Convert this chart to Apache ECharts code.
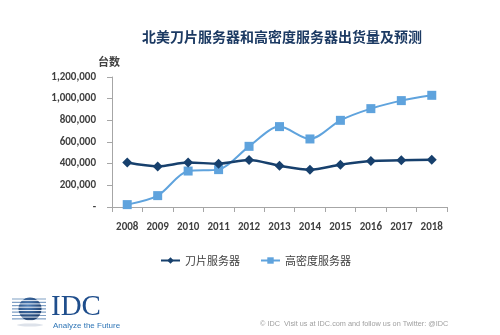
<!DOCTYPE html>
<html>
<head>
<meta charset="utf-8">
<script src="https://cdn.jsdelivr.net/npm/echarts@6/dist/echarts.min.js"></script>
<style>
  html, body { margin: 0; padding: 0; background: #fff; }
  #chart { width: 500px; height: 335px; }
</style>
</head>
<body>
<div id="chart"></div>
<script>
// Shipments of blade and high-density servers in North America (units), with forecast
const years = ['2008', '2009', '2010', '2011', '2012', '2013', '2014', '2015', '2016', '2017', '2018'];
const bladeServers = [410000, 375000, 410000, 400000, 434000, 381000, 345000, 391000, 425000, 431000, 437000];
const densityServers = [22000, 105000, 332000, 345000, 560000, 742000, 628000, 800000, 908000, 982000, 1031000];
const seriesNames = ['刀片服务器', '高密度服务器'];
const yTicks = [0, 200000, 400000, 600000, 800000, 1000000, 1200000];

const darkBlue = '#17406d';
const lightBlue = '#5fa3dd';
const labelFont = 'Calibri, "Liberation Sans", "Noto Sans CJK SC", sans-serif';

function fmtTick(v) {
  if (v === 0) return '-';
  return v.toLocaleString('en-US');
}

// Globe mark for the footer logo: stripes across a shaded sphere
const globeStripes = [];
for (let i = 0; i < 7; i++) {
  const y = 299 + i * 3.3;
  globeStripes.push({
    type: 'line',
    shape: { x1: 12, y1: y, x2: 46, y2: y },
    style: { stroke: '#7f9fc4', lineWidth: 1.2 }
  });
}
const globeCuts = [];
for (let i = 0; i < 7; i++) {
  const y = 299 + i * 3.3 + 1.6;
  globeCuts.push({
    type: 'line',
    shape: { x1: 16, y1: y, x2: 44, y2: y },
    style: { stroke: '#ffffff', lineWidth: 0.9 },
    z: 12
  });
}

const chart = echarts.init(document.getElementById('chart'), null, { renderer: 'canvas' });
chart.setOption({
  animation: false,
  backgroundColor: '#ffffff',
  title: {
    text: '北美刀片服务器和高密度服务器出货量及预测',
    left: 277,
    textAlign: 'center',
    top: 25,
    textStyle: {
      fontFamily: '"Noto Sans CJK SC", sans-serif',
      fontSize: 14,
      fontWeight: 'bold',
      color: '#1c3a63'
    }
  },
  legend: {
    data: seriesNames,
    top: 250,
    left: 155,
    itemGap: 20,
    itemWidth: 19,
    itemHeight: 8,
    textStyle: {
      fontFamily: '"Noto Sans CJK SC", sans-serif',
      fontSize: 11,
      color: '#404040'
    }
  },
  grid: { left: 112, right: 53, top: 77, bottom: 128 },
  xAxis: {
    type: 'category',
    data: years,
    boundaryGap: true,
    axisLine: { lineStyle: { color: '#a6a6a6', width: 1 } },
    axisTick: { show: true, length: 5, inside: false, lineStyle: { color: '#a6a6a6' } },
    axisLabel: {
      margin: 15,
      fontFamily: labelFont,
      fontSize: 11,
      fontWeight: 'bold',
      color: '#404040'
    }
  },
  yAxis: {
    type: 'value',
    min: 0,
    max: 1200000,
    interval: 200000,
    name: '台数',
    nameLocation: 'end',
    nameGap: 10,
    nameTextStyle: {
      fontFamily: '"Noto Sans CJK SC", sans-serif',
      fontSize: 11,
      fontWeight: 'bold',
      color: '#404040',
      align: 'center',
      padding: [0, 6, 0, 0]
    },
    axisLine: { show: true, lineStyle: { color: '#a6a6a6' } },
    axisTick: { show: true, length: 5, lineStyle: { color: '#a6a6a6' } },
    splitLine: { show: false },
    axisLabel: {
      margin: 16,
      fontFamily: labelFont,
      fontSize: 11,
      fontWeight: 'bold',
      color: '#404040',
      formatter: function (v) { return yTicks.indexOf(v) >= 0 ? fmtTick(v) : ''; }
    }
  },
  series: [
    {
      name: seriesNames[0],
      type: 'line',
      data: bladeServers,
      smooth: 0.3,
      symbol: 'diamond',
      symbolSize: 10,
      lineStyle: { color: darkBlue, width: 2.5 },
      itemStyle: { color: darkBlue },
      z: 3
    },
    {
      name: seriesNames[1],
      type: 'line',
      data: densityServers,
      smooth: 0.3,
      symbol: 'rect',
      symbolSize: 9,
      lineStyle: { color: lightBlue, width: 2 },
      itemStyle: { color: lightBlue },
      z: 2
    }
  ],
  graphic: [
    {
      type: 'group',
      children: globeStripes.concat([
        {
          type: 'circle',
          shape: { cx: 30, cy: 309, r: 11.5 },
          style: {
            fill: new echarts.graphic.RadialGradient(0.4, 0.35, 0.8, [
              { offset: 0, color: '#4f7fb8' },
              { offset: 1, color: '#0f2f5e' }
            ])
          },
          z: 11
        }
      ]).concat(globeCuts).concat([
        {
          type: 'ellipse',
          shape: { cx: 30, cy: 325, rx: 13, ry: 1.5 },
          style: { fill: 'rgba(120,140,170,0.25)' }
        }
      ])
    },
    {
      type: 'text',
      left: 51,
      top: 293,
      style: {
        text: 'IDC',
        font: '29px "Liberation Serif", "DejaVu Serif", serif',
        fill: '#1f4e8c'
      }
    },
    {
      type: 'text',
      left: 53,
      top: 322,
      style: {
        text: 'Analyze the Future',
        font: '8px "Liberation Sans", Arial, sans-serif',
        fill: '#2e75b6'
      }
    },
    {
      type: 'text',
      left: 260,
      top: 320,
      style: {
        text: '© IDC  Visit us at IDC.com and follow us on Twitter: @IDC',
        font: '7.3px "Liberation Sans", Arial, sans-serif',
        fill: '#a0a0a0'
      }
    }
  ]
});
</script>
</body>
</html>
